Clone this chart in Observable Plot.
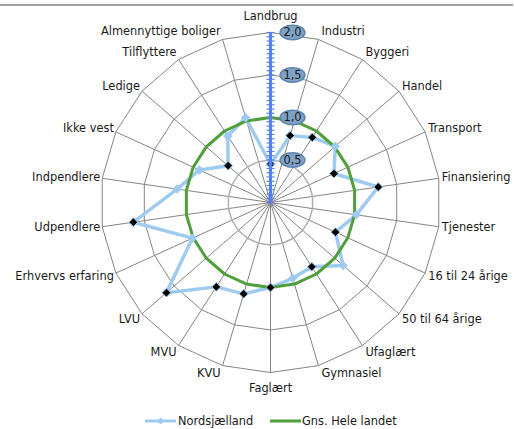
<!DOCTYPE html>
<html>
<head>
<meta charset="utf-8">
<script src="https://cdn.jsdelivr.net/npm/d3@7"></script>
<script src="https://cdn.jsdelivr.net/npm/@observablehq/plot@0.6"></script>
<style>
  body { margin: 0; background: white; font-family: "DejaVu Sans", Verdana, sans-serif; }
  #wrap { position: relative; width: 514px; height: 429px; overflow: hidden; }
  #topline { position: absolute; left: 0; top: 4px; width: 513px; height: 2px; background: #a0a0a0; z-index: 2; }
  #legend { position: absolute; left: 0; top: 412px; width: 514px; height: 17px; font-size: 11.4px; color: #1a1a1a; }
  .lg { position: absolute; top: 0; display: flex; align-items: center; height: 17px; }
</style>
</head>
<body>
<div id="wrap">
  <div id="topline"></div>
  <div id="chart"></div>
  <div id="legend"></div>
</div>
<script>
const categories = ["Landbrug", "Industri", "Byggeri", "Handel", "Transport", "Finansiering", "Tjenester",
  "16 til 24 årige", "50 til 64 årige", "Ufaglært", "Gymnasiel", "Faglært", "KVU", "MVU", "LVU",
  "Erhvervs erfaring", "Udpendlere", "Indpendlere", "Ikke vest", "Ledige", "Tilflyttere", "Almennyttige boliger"];
const nordsjaelland = [0.45, 0.82, 0.91, 1.01, 0.82, 1.28, 1.02, 0.84, 1.13, 0.90, 0.93, 1.00, 1.12, 1.18, 1.62,
  1.01, 1.63, 1.11, 0.92, 0.66, 0.93, 1.04];
const heleLandet = [1, 1, 1, 1, 1, 1, 1, 1, 1, 1, 1, 1, 1, 1, 1, 1, 1, 1, 1, 1, 1, 1];
const significant = [true, true, true, false, true, true, false, true, false, true, false, true, true, true, true,
  false, true, false, false, true, false, false];
const seriesNames = ["Nordsjælland", "Gns. Hele landet"];
const tickValues = [0.5, 1.0, 1.5, 2.0];
const tickLabels = ["0,5", "1,0", "1,5", "2,0"];
const minorStep = 0.05;

const U = 85;            // px per unit
const W = 514, H = 405, CX = 270, CY = 202;
const N = categories.length;
const maxV = tickValues[tickValues.length - 1];
const ang = i => i * 2 * Math.PI / N;
const px = (v, i) => v * Math.sin(ang(i));
const py = (v, i) => v * Math.cos(ang(i));

// rings
const ringPts = [];
for (const lv of tickValues) for (let i = 0; i <= N; i++) ringPts.push({lv, x: px(lv, i % N), y: py(lv, i % N)});
const spokes = categories.map((c, i) => ({x2: px(maxV, i), y2: py(maxV, i)}));

const closed = arr => arr.map((v, i) => ({x: px(v, i), y: py(v, i), i})).concat([{x: px(arr[0], 0), y: py(arr[0], 0), i: 0}]);
const blue = closed(nordsjaelland);
const green = closed(heleLandet);
const markers = nordsjaelland.map((v, i) => ({x: px(v, i), y: py(v, i), sig: significant[i]}));

const labels = categories.map((c, i) => {
  const s = Math.sin(ang(i)), co = Math.cos(ang(i));
  const side = s > 0.05 ? "start" : s < -0.05 ? "end" : "middle";
  const offX = side === "start" ? 3 : side === "end" ? -2 : 0;
  const offY = side === "middle" ? -co * 16 : -co * 8; // px downward
  return {text: c, side, x: maxV * s + offX / U, y: maxV * co - offY / U};
});

const minor = d3.range(0, maxV + 1e-9, minorStep);

const ellipse = {
  draw(ctx, size) {
    const s = Math.sqrt(size / Math.PI), rx = s * 1.7, ry = s, k = 0.5523;
    ctx.moveTo(rx, 0);
    ctx.bezierCurveTo(rx, ry * k, rx * k, ry, 0, ry);
    ctx.bezierCurveTo(-rx * k, ry, -rx, ry * k, -rx, 0);
    ctx.bezierCurveTo(-rx, -ry * k, -rx * k, -ry, 0, -ry);
    ctx.bezierCurveTo(rx * k, -ry, rx, -ry * k, rx, 0);
    ctx.closePath();
  }
};

const BLUE = "#9fcbf0", GREEN = "#4f9f3b", AXIS = "#5580f5";
const font = "DejaVu Sans, Verdana, sans-serif";
const FS = 11.4;

const chart = Plot.plot({
  width: W, height: H, margin: 0,
  style: {fontFamily: font, fontSize: FS + "px", background: "transparent"},
  x: {domain: [-CX / U, (W - CX) / U], range: [0, W], axis: null},
  y: {domain: [-(H - CY) / U, CY / U], range: [H, 0], axis: null},
  marks: [
    Plot.link(spokes, {x1: d => 0, y1: d => 0, x2: "x2", y2: "y2", stroke: "#858585", strokeWidth: 1}),
    Plot.line(ringPts.filter(d => d.lv !== tickValues[0]), {x: "x", y: "y", z: "lv", stroke: "#858585", strokeWidth: 1}),
    Plot.line(ringPts.filter(d => d.lv === tickValues[0]), {x: "x", y: "y", z: "lv", stroke: "#b0b0b0", strokeWidth: 1.5}),
    Plot.line(blue, {x: "x", y: "y", stroke: BLUE, strokeWidth: 3.5, strokeLinejoin: "round"}),
    Plot.line(green, {x: "x", y: "y", stroke: GREEN, strokeWidth: 3}),
    Plot.dot(markers.filter(d => !d.sig), {x: "x", y: "y", symbol: "diamond2", r: 4.3, fill: BLUE, stroke: "none"}),
    Plot.dot(markers.filter(d => d.sig), {x: "x", y: "y", symbol: "diamond2", r: 4, fill: "black", stroke: BLUE, strokeWidth: 1}),
    Plot.link([0], {x1: d => 0, y1: d => 0, x2: d => 0, y2: d => maxV, stroke: AXIS, strokeWidth: 3}),
    Plot.link(minor, {x1: d => -4 / U, x2: d => 4 / U, y1: d => d, y2: d => d, stroke: AXIS, strokeWidth: 1.2}),
    Plot.dot(tickValues, {x: d => 0, y: d => d, dx: 22, symbol: ellipse, r: 7.3, fill: "#7fa3c6", stroke: "#5a84ac", strokeWidth: 1.5}),
    Plot.text(tickValues, {x: d => 0, y: d => d, dx: 22, text: (d, i) => tickLabels[i], fill: "#1a1a1a", fontSize: FS}),
    Plot.text(labels.filter(d => d.side === "start"), {x: "x", y: "y", text: "text", textAnchor: "start", fill: "#1a1a1a", fontSize: FS}),
    Plot.text(labels.filter(d => d.side === "end"), {x: "x", y: "y", text: "text", textAnchor: "end", fill: "#1a1a1a", fontSize: FS}),
    Plot.text(labels.filter(d => d.side === "middle"), {x: "x", y: "y", text: "text", textAnchor: "middle", fill: "#1a1a1a", fontSize: FS})
  ]
});
document.getElementById("chart").append(chart);

// legend
const lg = document.getElementById("legend");
lg.innerHTML = `
<div class="lg" style="left:145px">
  <svg width="31" height="10"><line x1="0" y1="5" x2="31" y2="5" stroke="${BLUE}" stroke-width="3"/>
  <path d="M15.5,1.5 L19,5 L15.5,8.5 L12,5Z" fill="${BLUE}"/></svg>
  <span style="margin-left:2px">${seriesNames[0]}</span>
</div>
<div class="lg" style="left:270px">
  <svg width="31" height="10"><line x1="0" y1="5" x2="31" y2="5" stroke="${GREEN}" stroke-width="3"/></svg>
  <span style="margin-left:1px">${seriesNames[1]}</span>
</div>`;
</script>
</body>
</html>
